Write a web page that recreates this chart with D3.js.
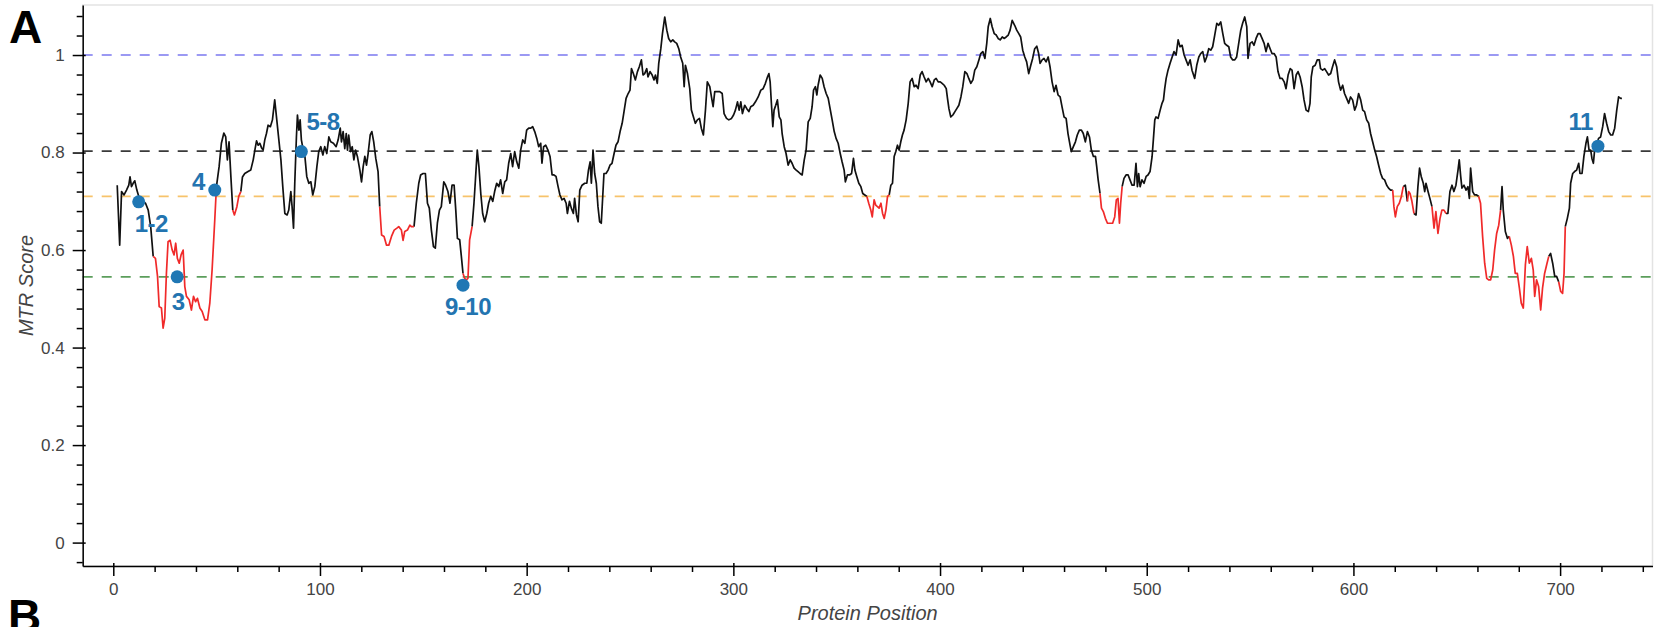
<!DOCTYPE html>
<html>
<head>
<meta charset="utf-8">
<script src="https://cdn.jsdelivr.net/npm/d3@7"></script>
<style>
	body { margin: 0; background: #fff; }
	svg { display: block; font-family: "Liberation Sans", Arial, Helvetica, sans-serif; }
</style>
</head>
<body>
<svg id="mtrPlot" width="1656" height="627"></svg>
<script>
//1. the data
const positions = [
	1.9,3.1,4.0,5.2,6.4,7.5,8.1,8.8,9.6,10.4,11.4,12.8,15.6,16.9,18.1,19.3,20.4,21.4,22.2,23.3,24.1,24.9,25.7,26.5,27.5,28.5,29.4,30.2,31.0,31.9,32.8,33.8,34.6,35.4,36.7,37.8,38.8,39.8,40.7,41.9,43.0,44.3,45.6,46.7,47.8,49.1,49.9,
	51.2,52.3,53.5,54.4,55.2,56.0,56.9,57.8,58.6,59.8,60.7,61.7,62.5,63.6,65.2,66.5,67.7,68.5,69.3,70.1,70.9,71.7,72.5,73.3,74.1,74.9,76.0,77.0,78.1,79.1,80.1,81.1,82.0,83.0,84.1,84.9,85.9,86.5,87.2,87.8,88.6,89.1,89.8,90.4,91.0,91.9,92.7,93.6,94.6,95.6,96.5,97.5,98.5,99.4,
	100.4,101.4,102.3,103.3,104.3,105.2,106.5,107.8,108.8,109.8,110.4,111.2,112.0,112.7,113.3,113.9,114.8,115.6,116.4,117.2,118.1,119.3,120.1,120.9,121.7,122.5,123.3,124.3,125.1,126.0,127.0,128.1,128.9,129.8,131.0,132.2,133.3,134.6,135.9,137.2,138.1,139.4,140.2,141.0,142.3,143.5,144.2,145.5,146.6,147.8,148.7,149.9,
	151.0,152.0,152.9,153.9,154.9,155.8,156.8,157.8,158.7,159.9,160.8,161.9,162.9,163.9,164.9,165.7,166.5,167.6,168.4,169.2,170.0,170.8,171.6,172.4,173.6,174.5,175.5,176.1,176.9,177.8,178.7,179.7,180.7,181.6,182.6,183.6,184.5,185.5,186.5,187.4,188.4,189.4,190.3,191.3,192.3,193.2,194.2,195.2,196.2,197.1,198.1,199.1,
	200.0,201.0,202.0,202.9,203.9,204.9,205.8,206.8,207.4,208.2,209.2,210.3,211.3,212.3,213.2,214.2,215.2,216.1,217.1,218.1,219.1,219.7,220.7,221.6,222.6,223.2,224.1,224.9,225.7,226.8,228.1,229.1,229.9,230.7,231.3,232.1,232.9,233.7,234.5,235.3,236.1,236.8,237.4,238.4,239.4,240.3,241.3,242.3,243.2,244.2,245.2,246.2,247.1,248.1,249.1,
	250.0,250.7,251.6,252.6,253.6,254.5,255.5,256.3,257.1,258.1,258.7,259.7,260.7,261.6,262.3,263.2,263.9,264.9,265.7,266.8,267.8,268.7,269.7,270.7,271.6,272.6,273.6,274.5,275.5,276.2,276.8,277.8,278.9,279.7,280.7,281.6,282.6,283.6,284.5,285.5,286.5,287.4,288.6,289.4,290.2,291.0,292.3,293.4,294.6,295.5,296.7,297.8,299.1,
	300.1,301.0,302.0,302.8,303.6,304.4,305.5,306.5,307.5,308.4,309.6,310.7,312.0,313.3,314.4,315.5,316.5,317.2,317.8,318.4,319.1,319.7,320.5,321.3,322.2,323.0,323.6,324.6,325.5,326.5,327.5,328.4,329.4,330.4,331.3,332.3,333.3,334.3,335.2,336.2,337.2,338.1,338.8,339.7,340.4,341.0,342.0,343.0,343.9,344.9,345.9,346.8,347.8,348.8,349.7,
	350.7,351.7,352.6,353.6,354.2,355.2,356.2,357.2,358.1,358.8,359.7,360.7,361.7,362.6,363.6,364.6,365.5,366.5,367.2,368.1,368.9,369.7,370.5,371.4,372.2,373.0,373.8,374.6,375.4,376.2,377.0,377.8,378.6,379.4,380.2,381.0,381.8,382.6,383.6,384.6,385.5,386.5,387.5,388.4,389.4,390.4,391.3,392.3,393.3,394.3,395.2,396.2,397.2,398.1,399.1,
	400.1,401.0,402.0,403.0,403.6,404.3,405.2,406.2,407.2,408.1,409.1,410.1,411.0,412.0,413.0,413.9,414.9,415.9,416.8,417.8,418.8,419.7,420.7,421.7,422.6,423.3,424.3,425.2,426.2,427.2,428.1,429.1,430.1,431.0,432.0,433.0,433.9,434.9,436.1,437.1,438.1,439.0,440.0,441.0,441.9,442.9,443.9,444.8,445.8,446.8,447.7,448.4,449.4,
	450.3,451.3,452.3,453.2,454.2,455.2,456.1,457.1,458.1,459.0,460.0,461.0,461.9,462.9,463.5,464.5,465.5,466.4,467.4,468.4,469.3,470.3,471.3,472.3,473.2,474.2,475.2,475.8,476.5,477.4,478.1,479.0,480.0,481.0,482.3,483.5,484.5,485.3,486.1,486.8,487.4,488.1,489.0,490.0,491.0,491.9,492.9,493.9,494.8,495.5,496.1,496.8,497.7,498.7,499.7,
	500.6,501.6,502.6,503.2,503.9,504.5,505.5,506.5,507.4,508.1,508.7,509.4,510.3,511.3,512.3,513.2,514.2,515.2,516.1,517.1,518.1,519.0,520.0,521.0,521.9,523.2,524.2,525.2,526.1,527.1,528.1,529.0,530.0,531.0,531.9,532.9,533.9,534.8,535.8,536.8,537.7,538.7,539.7,540.6,541.6,542.6,543.5,544.5,545.5,546.4,547.4,548.4,549.0,
	550.0,551.0,551.9,552.9,553.9,554.8,555.8,556.8,557.7,558.7,559.7,560.6,561.6,562.6,563.5,564.5,565.5,566.5,567.4,568.4,569.4,570.3,571.3,572.3,573.2,574.2,575.2,576.1,577.1,578.2,579.0,579.6,580.4,581.5,582.5,583.5,584.1,585.1,586.1,587.0,588.0,589.0,589.9,590.9,591.9,592.8,593.8,594.8,595.7,596.7,597.7,598.6,599.6,
	600.6,601.5,602.5,603.5,604.5,605.4,606.4,607.4,608.3,609.3,610.3,611.2,612.2,613.2,614.1,615.1,616.1,617.0,618.0,619.0,619.6,620.3,621.2,622.2,623.2,624.1,625.1,626.1,626.7,627.4,628.3,629.3,630.3,631.2,632.0,632.8,633.8,634.5,635.1,636.1,637.0,638.0,639.0,639.9,640.9,641.9,642.8,643.8,644.8,645.7,646.7,647.7,648.6,649.6,
	650.6,651.2,651.9,652.5,653.5,654.5,655.4,656.1,656.7,657.7,658.6,659.6,660.6,661.5,662.5,663.5,664.5,665.4,666.4,667.4,668.3,669.3,670.3,671.2,671.9,672.5,673.5,674.5,675.4,676.4,677.4,678.3,679.3,680.3,681.2,682.2,683.2,684.1,685.1,686.1,687.0,687.7,688.6,689.6,690.6,691.5,692.5,693.5,694.5,695.4,696.4,697.4,698.3,699.3,
	700.3,701.2,701.9,702.5,703.5,704.5,705.1,706.1,707.0,708.0,709.0,709.6,710.6,711.5,712.5,713.2,714.0,714.8,715.4,716.1,716.7,717.7,718.6,719.6,720.6,721.5,722.5,723.5,724.5,725.4,726.4,727.4,728.3,729.3,729.9
];
const mtrScores = [
	0.733,0.61,0.72,0.713,0.723,0.733,0.75,0.73,0.737,0.742,0.723,0.703,0.696,0.682,0.648,0.587,0.583,0.546,0.484,0.481,0.44,0.46,0.552,0.617,0.62,0.6,0.59,0.614,0.583,0.573,0.59,0.6,0.525,0.505,0.498,0.477,0.505,0.494,0.501,0.481,0.474,0.457,0.457,0.491,0.559,0.662,0.73,
	0.771,0.819,0.84,0.832,0.785,0.822,0.75,0.682,0.672,0.689,0.71,0.72,0.75,0.757,0.761,0.764,0.785,0.805,0.824,0.815,0.819,0.81,0.805,0.826,0.839,0.856,0.853,0.867,0.908,0.867,0.826,0.785,0.73,0.675,0.672,0.682,0.72,0.689,0.645,0.737,0.832,0.877,0.846,0.867,0.826,0.805,0.792,0.751,0.737,0.74,0.713,0.73,0.771,0.802,
	0.812,0.795,0.812,0.798,0.832,0.822,0.819,0.812,0.826,0.85,0.822,0.843,0.808,0.839,0.805,0.836,0.802,0.812,0.785,0.805,0.792,0.764,0.74,0.771,0.792,0.774,0.798,0.836,0.843,0.822,0.788,0.761,0.689,0.631,0.628,0.61,0.61,0.628,0.641,0.645,0.648,0.641,0.62,0.638,0.641,0.651,0.648,0.648,0.696,0.737,0.754,0.757,
	0.757,0.696,0.686,0.641,0.607,0.604,0.655,0.682,0.689,0.74,0.733,0.72,0.696,0.733,0.733,0.682,0.624,0.621,0.587,0.552,0.542,0.539,0.542,0.621,0.648,0.696,0.764,0.805,0.771,0.716,0.675,0.658,0.675,0.696,0.71,0.7,0.72,0.737,0.73,0.744,0.716,0.74,0.744,0.778,0.798,0.771,0.802,0.781,0.768,0.805,0.826,0.819,
	0.846,0.85,0.85,0.853,0.843,0.829,0.812,0.819,0.778,0.812,0.815,0.805,0.792,0.754,0.754,0.751,0.73,0.713,0.703,0.706,0.696,0.675,0.7,0.686,0.675,0.706,0.672,0.658,0.723,0.733,0.737,0.737,0.764,0.781,0.737,0.805,0.757,0.737,0.689,0.658,0.655,0.71,0.757,0.757,0.764,0.774,0.778,0.798,0.815,0.822,0.843,0.86,0.884,0.911,0.921,
	0.928,0.972,0.962,0.949,0.966,0.976,0.99,0.959,0.962,0.972,0.955,0.966,0.959,0.949,0.959,0.942,0.983,1.013,1.044,1.078,1.051,1.034,1.027,1.031,1.027,1.024,1.013,0.996,0.983,0.935,0.979,0.962,0.931,0.887,0.873,0.86,0.867,0.87,0.85,0.836,0.887,0.945,0.935,0.914,0.894,0.925,0.925,0.925,0.921,0.88,0.87,0.867,0.87,
	0.877,0.887,0.904,0.887,0.904,0.88,0.897,0.89,0.884,0.894,0.897,0.904,0.914,0.928,0.931,0.942,0.955,0.962,0.945,0.901,0.853,0.887,0.897,0.908,0.873,0.867,0.839,0.812,0.798,0.774,0.785,0.778,0.768,0.764,0.761,0.757,0.754,0.785,0.805,0.863,0.87,0.894,0.928,0.935,0.918,0.938,0.959,0.952,0.935,0.921,0.911,0.89,0.867,0.843,0.829,
	0.819,0.798,0.781,0.764,0.74,0.754,0.754,0.757,0.788,0.764,0.751,0.737,0.73,0.716,0.713,0.71,0.696,0.682,0.668,0.703,0.692,0.689,0.686,0.696,0.675,0.665,0.682,0.71,0.713,0.733,0.737,0.792,0.802,0.815,0.805,0.822,0.836,0.846,0.867,0.901,0.945,0.952,0.935,0.938,0.931,0.959,0.966,0.955,0.945,0.952,0.945,0.935,0.949,0.952,0.945,
	0.945,0.942,0.938,0.931,0.911,0.89,0.873,0.877,0.884,0.89,0.897,0.914,0.935,0.966,0.962,0.952,0.942,0.949,0.969,0.976,0.99,1.003,1.007,0.993,1.024,1.058,1.075,1.058,1.044,1.041,1.034,1.031,1.037,1.034,1.037,1.041,1.051,1.071,1.061,1.051,1.044,1.037,1.01,0.996,0.986,0.962,0.979,0.993,1.013,1.018,1.003,0.983,0.99,
	0.993,0.986,0.996,0.976,0.945,0.925,0.938,0.918,0.914,0.894,0.873,0.87,0.839,0.815,0.802,0.812,0.822,0.836,0.846,0.846,0.839,0.822,0.843,0.832,0.805,0.792,0.792,0.771,0.744,0.716,0.686,0.679,0.665,0.655,0.655,0.655,0.668,0.703,0.706,0.655,0.696,0.73,0.747,0.754,0.754,0.744,0.733,0.733,0.778,0.73,0.757,0.73,0.744,0.737,0.751,
	0.754,0.761,0.792,0.826,0.867,0.873,0.87,0.887,0.901,0.908,0.931,0.952,0.969,0.983,0.996,1.007,1.0,1.031,1.017,1.02,1.0,0.99,0.979,0.99,0.969,0.952,0.979,0.996,1.003,1.007,0.986,0.996,1.013,1.01,1.017,1.041,1.065,1.061,1.068,1.044,1.024,1.02,1.017,0.996,0.99,0.99,0.996,1.024,1.051,1.065,1.078,1.058,0.993,
	1.024,1.027,1.02,1.034,1.044,1.044,1.034,1.024,1.007,1.024,1.013,1.003,1.003,0.996,0.966,0.952,0.952,0.945,0.931,0.959,0.972,0.969,0.931,0.959,0.966,0.955,0.935,0.908,0.887,0.884,0.901,0.955,0.976,0.979,0.99,0.99,0.972,0.969,0.972,0.966,0.959,0.962,0.976,0.99,0.976,0.945,0.928,0.938,0.921,0.911,0.901,0.914,0.908,
	0.887,0.897,0.921,0.908,0.887,0.884,0.867,0.86,0.839,0.822,0.805,0.792,0.774,0.757,0.747,0.744,0.733,0.727,0.723,0.723,0.689,0.668,0.689,0.696,0.71,0.73,0.733,0.7,0.72,0.716,0.7,0.675,0.672,0.73,0.768,0.751,0.737,0.72,0.737,0.72,0.706,0.689,0.645,0.679,0.634,0.665,0.682,0.682,0.675,0.675,0.72,0.733,0.72,0.733,
	0.764,0.785,0.751,0.727,0.733,0.723,0.73,0.706,0.768,0.72,0.713,0.713,0.71,0.696,0.628,0.573,0.542,0.539,0.539,0.559,0.6,0.634,0.651,0.682,0.73,0.682,0.638,0.624,0.628,0.61,0.587,0.552,0.552,0.522,0.491,0.481,0.57,0.607,0.573,0.583,0.559,0.505,0.539,0.525,0.477,0.522,0.552,0.57,0.587,0.593,0.573,0.546,0.546,0.535,
	0.515,0.511,0.552,0.648,0.665,0.686,0.737,0.757,0.761,0.764,0.778,0.757,0.757,0.792,0.819,0.832,0.805,0.805,0.788,0.778,0.805,0.815,0.829,0.832,0.853,0.88,0.86,0.843,0.836,0.836,0.85,0.887,0.914,0.911,0.911
];

// stretches of the trace drawn in red (start, end protein position)
const redRanges = [
	[18.8, 49.5], [58.0, 61.7], [128.9, 145.8], [169.5, 173.6], [364.6, 375.0],
	[477.4, 487.8], [619.3, 624.0], [626.2, 629.0], [638.5, 644.5], [660.6, 671.2],
	[675.5, 694.0], [699.0, 702.5]
];

// horizontal reference levels
const refLevels = [1.0, 0.803, 0.71, 0.545];

// labelled sites
const siteLabels = ["1-2", "3", "4", "5-8", "9-10", "11"];
const sitePositions = [12.3, 30.9, 49.1, 91.0, 169.2, 718.3];
const siteScores = [0.699, 0.545, 0.723, 0.802, 0.528, 0.813];

// axis ticks
const xTicks = [0, 100, 200, 300, 400, 500, 600, 700];
const yTicks = [0, 0.2, 0.4, 0.6, 0.8, 1];

//2. styles
const refColors = ["#7b78f0", "#3a3a3a", "#f7c36b", "#5c9e5c"];
// where each site label sits relative to its dot: [dx, dy, anchor]
const labelPlacement = [
	[-4, 30, "start"], [1, 33, "middle"], [-10, 0, "end"],
	[5, -22, "start"], [5, 30, "middle"], [-5, -16, "end"]
];

let margin = { top: 5, right: 3.5, bottom: 61, left: 82.7 },
	width = 1656,
	height = 627;

const svg = d3.select("#mtrPlot");

let xScale = d3.scaleLinear()
	.domain([-14.8, 744.7])
	.range([margin.left, width - margin.right]);

let yScale = d3.scaleLinear()
	.domain([-0.048, 1.1026])
	.range([height - margin.bottom, margin.top]);

// plot frame (light outline)
svg.append("rect")
	.attr("x", margin.left)
	.attr("y", margin.top)
	.attr("width", width - margin.right - margin.left)
	.attr("height", height - margin.bottom - margin.top)
	.attr("fill", "none")
	.attr("stroke", "#e3e3e3")
	.attr("stroke-width", 1.5);

// reference dashed lines
svg.append("g")
	.selectAll("line")
	.data(refLevels)
	.join("line")
	.attr("x1", margin.left)
	.attr("x2", width - margin.right)
	.attr("y1", d => yScale(d))
	.attr("y2", d => yScale(d))
	.attr("stroke", (d, i) => refColors[i])
	.attr("stroke-width", 1.6)
	.attr("stroke-dasharray", "10,9");

// split the trace into black / red runs
const points = positions.map((p, i) => ({ p: p, v: mtrScores[i] }));

function isRed(p) {
	return redRanges.some(r => p >= r[0] && p <= r[1]);
}

let runs = [];
let cur = null;
for (let i = 0; i < points.length - 1; i++) {
	let mid = (points[i].p + points[i + 1].p) / 2;
	let col = isRed(mid) ? "#f02a2a" : "#111";
	if (!cur || cur.col !== col) {
		cur = { col: col, pts: [points[i]] };
		runs.push(cur);
	}
	cur.pts.push(points[i + 1]);
}

const line = d3.line()
	.x(d => xScale(d.p))
	.y(d => yScale(d.v));

svg.append("g")
	.selectAll("path")
	.data(runs.filter(r => r.col !== "#f02a2a").concat(runs.filter(r => r.col === "#f02a2a")))
	.join("path")
	.attr("d", d => line(d.pts))
	.attr("fill", "none")
	.attr("stroke", d => d.col)
	.attr("stroke-width", 1.7)
	.attr("stroke-linejoin", "round");

// site markers
const sites = siteLabels.map((s, i) => ({ label: s, p: sitePositions[i], v: siteScores[i], place: labelPlacement[i] }));

svg.append("g")
	.selectAll("circle")
	.data(sites)
	.join("circle")
	.attr("cx", d => xScale(d.p))
	.attr("cy", d => yScale(d.v))
	.attr("r", 6.5)
	.attr("fill", "#1f77b4");

svg.append("g")
	.selectAll("text")
	.data(sites)
	.join("text")
	.attr("x", d => xScale(d.p) + d.place[0])
	.attr("y", d => yScale(d.v) + d.place[1])
	.attr("text-anchor", d => d.place[2])
	.attr("fill", "#2374b0")
	.attr("font-size", 24)
	.attr("font-weight", "bold")
	.attr("letter-spacing", -0.5)
	.text(d => d.label);

// axes
const yMinor = d3.range(-1, 28).map(i => +(i * 0.04).toFixed(2)).filter(v => Math.abs(v * 5 - Math.round(v * 5)) > 1e-6);
const xMinor = d3.range(0, 38).map(i => i * 20).filter(v => v % 100 !== 0);

let yAxisG = svg.append("g")
	.attr("class", "axis axis-y")
	.attr("transform", "translate(" + margin.left + ",0)");
yAxisG.append("g")
	.call(d3.axisLeft(yScale).tickValues(yMinor).tickSize(6).tickFormat(""))
	.call(g => g.select(".domain").remove());
yAxisG.append("g")
	.call(d3.axisLeft(yScale).tickValues(yTicks).tickSizeInner(10).tickSizeOuter(0).tickPadding(8).tickFormat(d3.format("~g")))
	.call(g => g.selectAll(".tick line").attr("x1", 3));

let xAxisG = svg.append("g")
	.attr("class", "axis axis-x")
	.attr("transform", "translate(0," + (height - margin.bottom) + ")");
xAxisG.append("g")
	.call(d3.axisBottom(xScale).tickValues(xMinor).tickSize(6).tickFormat(""))
	.call(g => g.select(".domain").remove());
xAxisG.append("g")
	.call(d3.axisBottom(xScale).tickValues(xTicks).tickSizeInner(10).tickSizeOuter(0).tickPadding(7))
	.call(g => g.selectAll(".tick line").attr("y1", -3));

svg.selectAll(".axis path, .axis line")
	.attr("stroke", "#000")
	.attr("stroke-width", 1.5);
svg.selectAll(".axis text")
	.attr("fill", "#444")
	.attr("font-size", 17)
	.attr("font-family", "'Liberation Sans', Arial, sans-serif");

// axis titles
svg.append("text")
	.attr("x", (margin.left + width - margin.right) / 2)
	.attr("y", 620)
	.attr("text-anchor", "middle")
	.attr("font-size", 20)
	.attr("font-style", "italic")
	.attr("fill", "#444")
	.text("Protein Position");

svg.append("text")
	.attr("transform", "translate(33," + (margin.top + height - margin.bottom) / 2 + ") rotate(-90)")
	.attr("text-anchor", "middle")
	.attr("font-size", 20)
	.attr("font-style", "italic")
	.attr("fill", "#444")
	.text("MTR Score");

// panel letters
svg.append("text")
	.attr("x", 9)
	.attr("y", 43)
	.attr("font-size", 46)
	.attr("font-weight", "bold")
	.attr("fill", "#000")
	.text("A");

svg.append("text")
	.attr("x", 8)
	.attr("y", 632)
	.attr("font-size", 46)
	.attr("font-weight", "bold")
	.attr("fill", "#000")
	.text("B");
</script>
</body>
</html>
